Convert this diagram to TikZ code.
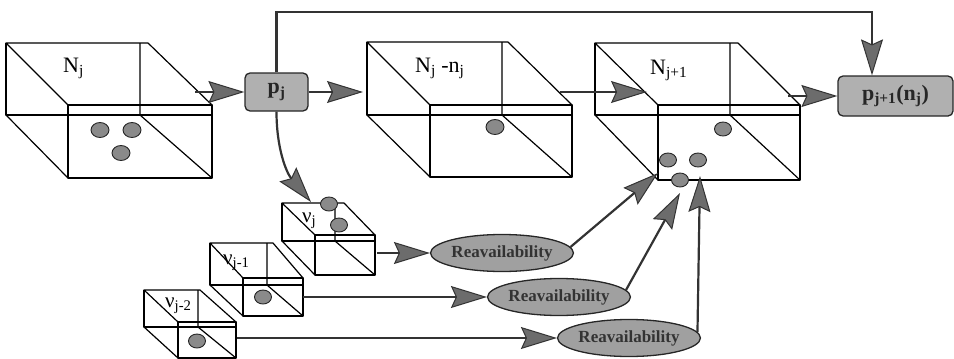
\documentclass[tikz,border=0pt]{standalone}
\usepackage{fontspec}
\setmainfont{Liberation Serif}
\usetikzlibrary{arrows.meta,shapes.geometric}
\definecolor{tipgray}{HTML}{6C6C6C}
\definecolor{boxgray}{HTML}{B0B0B0}
\definecolor{ellgray}{HTML}{A0A0A0}
\definecolor{dotgray}{HTML}{8A8A8A}
\definecolor{linegray}{HTML}{333333}
\newcommand\wirebox[9]{%
  \draw[boxline] (#1,#2) -- ({#1+#3},#2) -- ({#1+#5+#7},{#2+#6}) -- ({#1+#5},{#2+#6}) -- cycle;
  \draw[boxline] ({#1+#5},{#2+#6}) rectangle ({#1+#5+#7},{#2+#6+#9});
  \draw[boxline] (#1,#2) -- (#1,{#2+#8}) -- ({#1+#5+#7},{#2+#8});
  \draw[boxline] (#1,{#2+#8}) -- ({#1+#5},{#2+#6+#9});
  \draw[boxline] ({#1+#4},#2) -- ({#1+#4},{#2+#8}) -- ({#1+#5+#7},{#2+#6+#9});
}
\begin{document}
\begin{tikzpicture}[x=1pt,y=-1pt,
  boxline/.style={draw=black, line width=1.2pt, line join=round},
  conn/.style={draw=linegray, line width=2.2pt, -{Stealth[length=36pt,width=22pt,inset=5pt,fill=tipgray,line width=1pt]}},
  dot/.style={ellipse, draw=black!85, line width=0.9pt, fill=dotgray, minimum width=17pt, minimum height=14pt, inner sep=0pt},
  bigdot/.style={dot, minimum width=18pt, minimum height=15pt},
  pbox/.style={draw=black!85, line width=1.3pt, fill=boxgray, rounded corners=5pt, inner sep=0pt, font=\fontsize{22}{24}\selectfont\bfseries, text=black!85},
  reav/.style={ellipse, draw=black!85, line width=1.3pt, fill=ellgray, minimum width=128pt, minimum height=37pt, inner sep=0pt, font=\fontsize{17}{19}\selectfont\bfseries, text=black!80},
  lab/.style={inner sep=0pt, font=\fontsize{22}{24}\selectfont},
  nlab/.style={inner sep=0pt, font=\fontsize{21}{23}\selectfont}]
\useasboundingbox (0,0) rectangle (954,359);

% wireframe boxes
\wirebox{6}{43}{142}{134}{62}{62}{144}{72}{73}
\wirebox{367}{42}{141}{135}{63}{63}{142}{73}{72}
\wirebox{595}{43}{143}{135}{63}{62}{142}{72}{75}
\wirebox{282}{203}{62}{53}{33}{32}{60}{38}{40}
\wirebox{210}{243}{63}{57}{33}{35}{60}{42}{38}
\wirebox{144}{290}{56}{54}{34}{32}{58}{37}{36}

% labels
\node[lab, anchor=base west] (lN1) at (63,72) {N\textsubscript{j}};
\node[lab, anchor=base west] (lN2) at (415,72) {N\textsubscript{j} -n\textsubscript{j}};
\node[lab, anchor=base west] (lN3) at (650,74) {N\textsubscript{j+1}};
\node[nlab, anchor=base west] (lv1) at (302,222) {ν\textsubscript{j}};
\node[nlab, anchor=base west] (lv2) at (223,264) {ν\textsubscript{j-1}};
\node[nlab, anchor=base west] (lv3) at (165,307) {ν\textsubscript{j-2}};

% process nodes
\node[pbox, minimum width=63pt, minimum height=38pt] (pj) at (276.5,92) {p\textsubscript{j}};
\node[pbox, minimum width=115pt, minimum height=40pt] (pj1) at (895.5,96) {p\textsubscript{j+1}(n\textsubscript{j})};
\node[reav] (e1) at (502,253) {Reavailability};
\node[reav] (e2) at (559,297) {Reavailability};
\node[reav] (e3) at (629,338) {Reavailability};

% connector end points
\coordinate (b1out) at (195,92);
\coordinate (b2in) at (363,92);
\coordinate (b2out) at (560,92);
\coordinate (b3in) at (647,92);
\coordinate (b3out) at (788,96);
\coordinate (top) at (872,12);
\coordinate (nujin) at (311,202);
\coordinate (nujout) at (377,253);
\coordinate (nuj1out) at (303,297);
\coordinate (nuj2out) at (237,338);
\coordinate (t1) at (658,173);
\coordinate (t2) at (680,193);
\coordinate (t3) at (700,176);

% connectors
\draw[conn] (b1out) -- (pj.west);
\draw[conn] (pj.east) -- (b2in);
\draw[conn] (b2out) -- (b3in);
\draw[conn] (b3out) -- (pj1.west);
\draw[conn] (pj.north) |- (top) -- (top |- pj1.north);
\draw[conn] (pj.south) to[out=-90,in=130] (nujin);
\draw[conn] (nujout) -- (e1.west);
\draw[conn] (nuj1out) -- (e2.west);
\draw[conn] (nuj2out) -- (e3.west);
\draw[conn] (e1.5) -- (t1);
\draw[conn] (e2.6) -- (t2);
\draw[conn] (e3.5) -- (t3);

% dots
\node[bigdot] (d1) at (100,130) {};
\node[bigdot] (d2) at (132,130) {};
\node[bigdot] (d3) at (121,153) {};
\node[bigdot] (d4) at (495,127) {};
\node[dot] (d5) at (723,129) {};
\node[dot] (d6) at (668,160) {};
\node[dot] (d7) at (698,160) {};
\node[dot] (d8) at (680,180) {};
\node[dot] (d9) at (329,204) {};
\node[dot] (d10) at (339,225) {};
\node[dot] (d11) at (263,297) {};
\node[dot] (d12) at (197,341) {};
\end{tikzpicture}
\end{document}
